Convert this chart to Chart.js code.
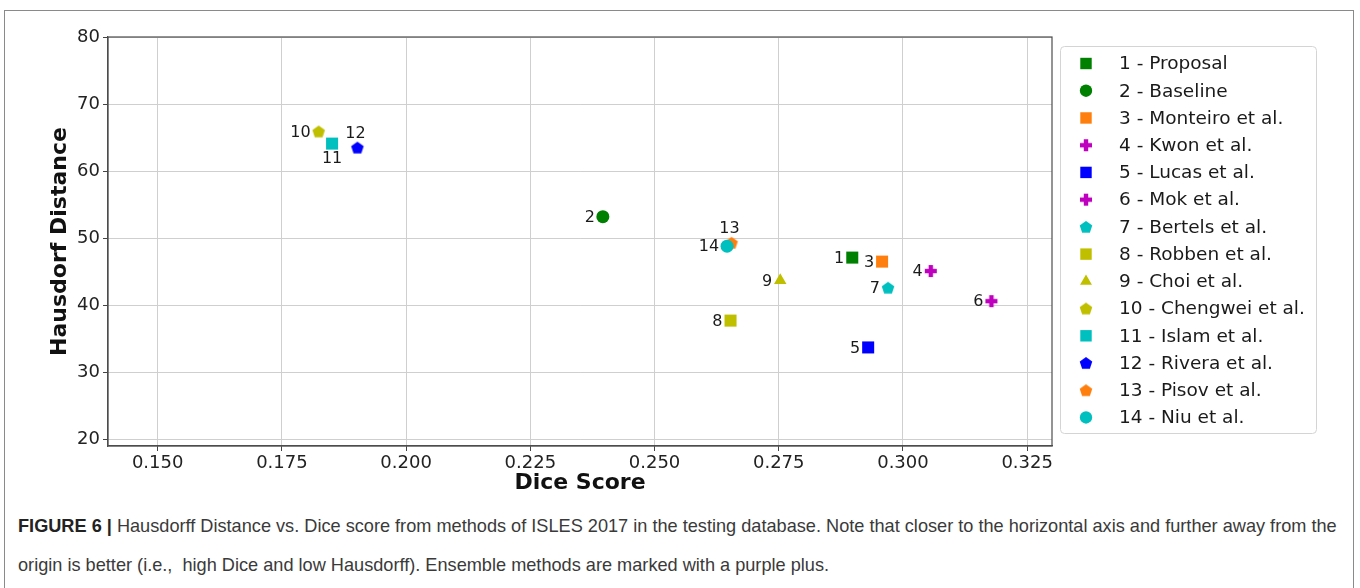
<!DOCTYPE html>
<html>
<head>
<meta charset="utf-8">
<script src="https://cdn.jsdelivr.net/npm/chart.js@4.4.1/dist/chart.umd.min.js"></script>
<style>
  html, body { margin:0; padding:0; background:#fff; width:1360px; height:588px; overflow:hidden; }
  #frame { position:absolute; left:4px; top:10px; width:1350px; height:620px; border:1px solid #8a8a8a; box-sizing:border-box; }
  #c { position:absolute; left:0; top:0; }
  #cap { position:absolute; left:18px; top:507px; font-family:'Liberation Sans', Arial, sans-serif; font-size:18px; color:#3a3a3a; line-height:39px; white-space:nowrap; }
  #cap b { color:#222; }
</style>
</head>
<body>
<div id="frame"></div>
<canvas id="c" width="1360" height="500"></canvas>
<div id="cap"><div id="l1"><b>FIGURE 6 |</b> Hausdorff Distance vs. Dice score from methods of ISLES 2017 in the testing database. Note that closer to the horizontal axis and further away from the</div><div id="l2">origin is better (i.e.,&nbsp; high Dice and low Hausdorff). Ensemble methods are marked with a purple plus.</div></div>
<script>
// ---- data ----
const methods = ['1 - Proposal','2 - Baseline','3 - Monteiro et al.','4 - Kwon et al.','5 - Lucas et al.','6 - Mok et al.','7 - Bertels et al.','8 - Robben et al.','9 - Choi et al.','10 - Chengwei et al.','11 - Islam et al.','12 - Rivera et al.','13 - Pisov et al.','14 - Niu et al.'];
const pointIds = ['1','2','3','4','5','6','7','8','9','10','11','12','13','14'];
const diceScore = [0.2898, 0.2396, 0.2958, 0.3056, 0.2930, 0.3178, 0.2970, 0.2653, 0.2753, 0.1824, 0.1851, 0.1902, 0.2655, 0.2646];
const hausdorff = [47.1, 53.2, 46.5, 45.1, 33.7, 40.6, 42.6, 37.7, 43.7, 65.9, 64.1, 63.5, 49.3, 48.8];
const xTicks = [0.150, 0.175, 0.200, 0.225, 0.250, 0.275, 0.300, 0.325];
const yTicks = [20, 30, 40, 50, 60, 70, 80];

// ---- styles ----
const markers = ['rect','circle','rect','plus','rect','plus','pentagon','rect','triangle','pentagon','rect','pentagon','pentagon','circle'];
const colors = ['#008000','#008000','#ff7f0e','#bf00bf','#0000ff','#bf00bf','#00bfbf','#bfbf00','#bfbf00','#bfbf00','#00bfbf','#0000ff','#ff7f0e','#00bfbf'];
const labelPlace = ['left','left','left','left','left','left','left','left','left','left','below','above','above','left'];

function makePentagon(color, R) {
  const s = Math.ceil(2 * R + 2);
  const c = document.createElement('canvas');
  c.width = s; c.height = s;
  const g = c.getContext('2d');
  g.fillStyle = color;
  g.beginPath();
  for (let i = 0; i < 5; i++) {
    const a = -Math.PI / 2 + i * 2 * Math.PI / 5;
    const px = s / 2 + R * Math.cos(a), py = s / 2 + R * Math.sin(a) + R * 0.08;
    if (i) g.lineTo(px, py); else g.moveTo(px, py);
  }
  g.closePath(); g.fill();
  return c;
}
function makePlus(color, L, t) {
  const s = L + 2;
  const c = document.createElement('canvas');
  c.width = s; c.height = s;
  const g = c.getContext('2d');
  g.fillStyle = color;
  g.fillRect(s / 2 - t / 2, s / 2 - L / 2, t, L);
  g.fillRect(s / 2 - L / 2, s / 2 - t / 2, L, t);
  return c;
}
function styleFor(i) {
  const m = markers[i], col = colors[i];
  if (m === 'pentagon') return { pointStyle: makePentagon(col, 6.6), radius: 7 };
  if (m === 'plus') return { pointStyle: makePlus(col, 12, 4.4), radius: 7 };
  if (m === 'rect') return { pointStyle: 'rect', radius: 8.5 };
  if (m === 'triangle') return { pointStyle: 'triangle', radius: 7.2 };
  return { pointStyle: 'circle', radius: 6.5 };
}

const n = methods.length;
const datasets = methods.map((name, i) => {
  const st = styleFor(i);
  return {
    label: name,
    data: [{ x: diceScore[i], y: hausdorff[i] }],
    pointStyle: st.pointStyle,
    pointRadius: st.radius,
    pointHoverRadius: st.radius,
    backgroundColor: colors[i],
    borderColor: colors[i],
    borderWidth: 0,
    order: n - i
  };
});

const frameAndLabels = {
  id: 'frameAndLabels',
  afterDatasetsDraw(chart) {
    const ctx = chart.ctx;
    const a = chart.chartArea;
    ctx.save();
    ctx.strokeStyle = '#4d4d4d';
    ctx.lineWidth = 1.2;
    ctx.strokeRect(a.left, a.top, a.right - a.left, a.bottom - a.top);
    ctx.font = '16px "DejaVu Sans"';
    ctx.fillStyle = '#1a1a1a';
    chart.data.datasets.forEach((ds, i) => {
      const el = chart.getDatasetMeta(i).data[0];
      if (!el) return;
      const p = labelPlace[i];
      ctx.textBaseline = 'middle';
      if (p === 'left') {
        ctx.textAlign = 'right';
        ctx.fillText(pointIds[i], el.x - 8, el.y + 1);
      } else if (p === 'above') {
        ctx.textAlign = 'center';
        ctx.fillText(pointIds[i], el.x - 2, el.y - 13.5);
      } else {
        ctx.textAlign = 'center';
        ctx.fillText(pointIds[i], el.x, el.y + 15);
      }
    });
    ctx.restore();
  },
  afterDraw(chart) {
    const ctx = chart.ctx;
    const bx = 1060, by = 46, bw = 256, bh = 387;
    ctx.save();
    ctx.fillStyle = 'rgba(255,255,255,0.9)';
    ctx.strokeStyle = '#d4d4d4';
    ctx.lineWidth = 1;
    ctx.beginPath();
    ctx.roundRect(bx + 0.5, by + 0.5, bw, bh, 4);
    ctx.fill(); ctx.stroke();
    chart.data.datasets.forEach((ds, i) => {
      const y = 63.5 + i * 27.23;
      ctx.fillStyle = ds.backgroundColor;
      ctx.strokeStyle = ds.borderColor;
      Chart.helpers.drawPoint(ctx, { pointStyle: ds.pointStyle, radius: ds.pointRadius * 0.95, rotation: 0, borderWidth: 0 }, 1086, y);
      ctx.font = '18.5px "DejaVu Sans"';
      ctx.textAlign = 'left'; ctx.textBaseline = 'middle';
      ctx.fillStyle = '#1a1a1a';
      ctx.fillText(ds.label, 1119, y + 1);
    });
    ctx.restore();
  }
};

new Chart(document.getElementById('c'), {
  type: 'scatter',
  data: { datasets },
  plugins: [frameAndLabels],
  options: {
    responsive: false,
    animation: false,
    events: [],
    layout: { padding: { left: 0, top: 37, right: 308, bottom: 0 } },
    plugins: { legend: { display: false }, tooltip: { enabled: false } },
    scales: {
      x: {
        type: 'linear', min: 0.14, max: 0.33,
        afterBuildTicks: s => { s.ticks = xTicks.map(v => ({ value: v })); },
        afterFit: s => { s.height = 54; },
        ticks: { callback: v => Number(v).toFixed(3), font: { family: 'DejaVu Sans', size: 18 }, color: '#222', padding: 2, maxRotation: 0, autoSkip: false },
        grid: { color: '#cfcfcf', lineWidth: 1, tickLength: 5, tickColor: '#444', drawTicks: true },
        border: { display: true, color: '#4d4d4d', width: 1.2 },
        title: { display: true, text: 'Dice Score', font: { family: 'DejaVu Sans', size: 22, weight: 'bold' }, color: '#111', padding: { top: 0, bottom: 4 } }
      },
      y: {
        type: 'linear', min: 19, max: 80,
        afterBuildTicks: s => { s.ticks = yTicks.map(v => ({ value: v })); },
        afterFit: s => { s.width = 108; },
        ticks: { font: { family: 'DejaVu Sans', size: 18 }, color: '#222', padding: 3, autoSkip: false },
        grid: { color: '#cfcfcf', lineWidth: 1, tickLength: 5, tickColor: '#444', drawTicks: true },
        border: { display: true, color: '#4d4d4d', width: 1.2 },
        title: { display: true, text: 'Hausdorf Distance', font: { family: 'DejaVu Sans', size: 22, weight: 'bold' }, color: '#111', padding: { top: 47, bottom: 0 } }
      }
    }
  }
});

// fit caption lines to the reference line width
(function () {
  const l1 = document.getElementById('l1');
  const cap = document.getElementById('cap');
  const r = document.createRange(); r.selectNodeContents(l1);
  const tw = r.getBoundingClientRect().width;
  const target = 1319;
  cap.style.fontSize = (18 * target / tw).toFixed(2) + 'px';
})();
</script>
</body>
</html>
